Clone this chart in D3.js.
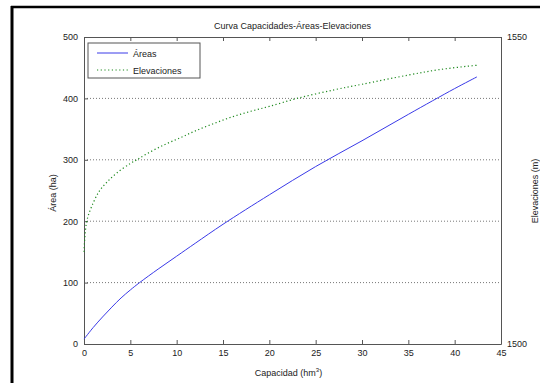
<!DOCTYPE html>
<html>
<head>
<meta charset="utf-8">
<script src="https://cdn.jsdelivr.net/npm/d3@7"></script>
<style>
  body { margin: 0; background: #fff; }
  svg { display: block; font-family: "Liberation Sans", Arial, sans-serif; }
</style>
</head>
<body>
<div id="chart"></div>
<script>
/* ---- datos ---- */
let capArea = [0, 1, 2, 3, 4, 5, 6, 8, 10, 12, 15, 20, 25, 30, 35, 40, 42.4]
let areaValues = [8, 27, 44, 60, 75, 88, 100, 122, 143, 164, 195, 243, 289, 331, 374, 416, 435]

let capElev = [0, 0.3, 1, 1.7, 2.5, 3.5, 5, 5.7, 6.8, 8.6, 10.4, 12, 14, 16, 18, 20, 23, 27, 30, 35, 38.4, 42.4]
let elevValues = [1515, 1520, 1523, 1525, 1526.4, 1527.8, 1529.4, 1530, 1531, 1532.4, 1533.6, 1534.7, 1535.9, 1537, 1537.9, 1538.7, 1540, 1541.4, 1542.3, 1543.8, 1544.7, 1545.4]

let xTicks = [0, 5, 10, 15, 20, 25, 30, 35, 40, 45]
let yTicks = [0, 100, 200, 300, 400, 500]
let y2Ticks = [1500, 1550]
let seriesNames = ["Áreas", "Elevaciones"]

/* ---- dimensiones ---- */
let w = 540
let h = 383
let m = { left: 84, top: 37, right: 39, bottom: 39 }
let axisColor = "#555"
let blue = "#3a3ae8"
let green = "#1f8a1f"

let svg = d3.select("#chart").append("svg")
    .attr("width", w)
    .attr("height", h)

/* marco de la figura */
svg.append("line").attr("x1", 12).attr("x2", 12).attr("y1", 6).attr("y2", h)
    .attr("stroke", "#000").attr("stroke-width", 3)
svg.append("line").attr("x1", 11).attr("x2", w).attr("y1", 7).attr("y2", 7)
    .attr("stroke", "#000").attr("stroke-width", 2.5)

let x = d3.scaleLinear().domain([0, 45]).range([m.left, w - m.right])
let y = d3.scaleLinear().domain([0, 500]).range([h - m.bottom, m.top])
let y2 = d3.scaleLinear().domain([1500, 1550]).range([h - m.bottom, m.top])

/* rejilla horizontal */
svg.append("g").selectAll("line")
    .data(yTicks.slice(1, -1))
    .enter().append("line")
    .attr("x1", x(0)).attr("x2", x(45))
    .attr("y1", d => y(d)).attr("y2", d => y(d))
    .attr("stroke", "#777").attr("stroke-width", 1)
    .attr("stroke-dasharray", "1,2")

/* ejes */
function styleAxis(g) {
  g.select(".domain").attr("stroke", axisColor)
  g.selectAll(".tick line").attr("stroke", axisColor)
  g.selectAll(".tick text").attr("fill", "#222").attr("font-size", 9)
}

svg.append("g")
    .attr("transform", "translate(0," + y(0) + ")")
    .call(d3.axisBottom(x).tickValues(xTicks).tickSizeInner(-4).tickSizeOuter(0).tickPadding(6))
    .call(styleAxis)

svg.append("g")
    .attr("transform", "translate(0," + y(500) + ")")
    .call(d3.axisTop(x).tickValues(xTicks).tickSizeInner(-4).tickSizeOuter(0).tickFormat(""))
    .call(styleAxis)

svg.append("g")
    .attr("transform", "translate(" + x(0) + ",0)")
    .call(d3.axisLeft(y).tickValues(yTicks).tickSizeInner(-4).tickSizeOuter(0).tickPadding(6))
    .call(styleAxis)

svg.append("g")
    .attr("transform", "translate(" + x(45) + ",0)")
    .call(d3.axisRight(y2).tickValues(y2Ticks).tickFormat(d3.format("d"))
        .tickSizeInner(-4).tickSizeOuter(0).tickPadding(6))
    .call(styleAxis)

/* curvas */
let areaLine = d3.line()
    .x((d, i) => x(capArea[i]))
    .y(d => y(d))
    .curve(d3.curveCatmullRom.alpha(0.5))

let elevLine = d3.line()
    .x((d, i) => x(capElev[i]))
    .y(d => y2(d))
    .curve(d3.curveCatmullRom.alpha(0.5))

svg.append("path")
    .datum(areaValues)
    .attr("d", areaLine)
    .attr("fill", "none")
    .attr("stroke", blue)
    .attr("stroke-width", 1)

svg.append("path")
    .datum(elevValues)
    .attr("d", elevLine)
    .attr("fill", "none")
    .attr("stroke", green)
    .attr("stroke-width", 1.2)
    .attr("stroke-dasharray", "1.2,2.5")

/* textos */
svg.append("text")
    .attr("x", (x(0) + x(45)) / 2).attr("y", 29)
    .attr("text-anchor", "middle").attr("font-size", 9).attr("fill", "#222")
    .text("Curva Capacidades-Áreas-Elevaciones")

let xl = svg.append("text")
    .attr("x", (x(0) + x(45)) / 2 - 4).attr("y", 376)
    .attr("text-anchor", "middle").attr("font-size", 9).attr("fill", "#222")
xl.append("tspan").text("Capacidad (hm")
xl.append("tspan").attr("dy", -4).attr("font-size", 6).text("3")
xl.append("tspan").attr("dy", 4).text(")")

svg.append("text")
    .attr("transform", "translate(56," + 193 + ") rotate(-90)")
    .attr("text-anchor", "middle").attr("font-size", 9).attr("fill", "#222")
    .text("Área (ha)")

svg.append("text")
    .attr("transform", "translate(538," + 191 + ") rotate(-90)")
    .attr("text-anchor", "middle").attr("font-size", 9).attr("fill", "#222")
    .text("Elevaciones (m)")

/* leyenda */
let lg = svg.append("g").attr("transform", "translate(88,43)")
lg.append("rect").attr("width", 112).attr("height", 35)
    .attr("fill", "#fff").attr("stroke", axisColor).attr("stroke-width", 1)

let legendColors = [blue, green]
let legendDash = [null, "1.2,2.5"]
seriesNames.forEach(function (name, i) {
  let ly = 10 + i * 17
  lg.append("line").attr("x1", 9).attr("x2", 40).attr("y1", ly).attr("y2", ly)
      .attr("stroke", legendColors[i]).attr("stroke-width", i ? 1.2 : 1)
      .attr("stroke-dasharray", legendDash[i])
  lg.append("text").attr("x", 45).attr("y", ly + 3.5)
      .attr("font-size", 9).attr("fill", "#222").text(name)
})
</script>
</body>
</html>
